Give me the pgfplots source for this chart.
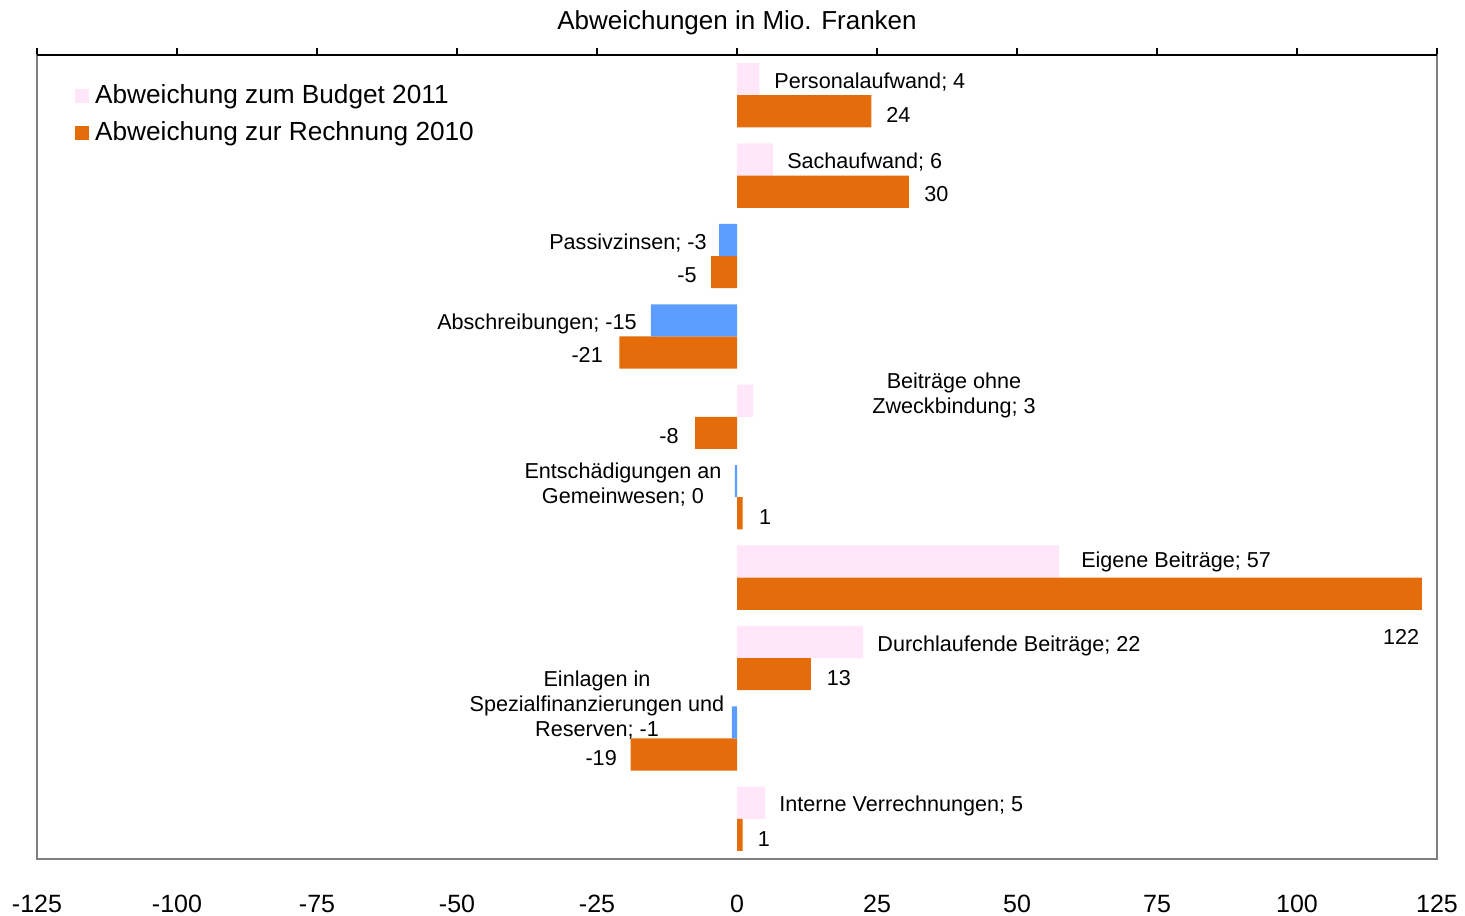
\documentclass[border=0pt]{standalone}
\usepackage{pgfplots}
\pgfplotsset{compat=1.18}
\usepackage{fontspec}
\setmainfont{Liberation Sans}
\definecolor{pinkb}{RGB}{255,230,248}
\definecolor{blueb}{RGB}{91,158,255}
\definecolor{orangeb}{RGB}{228,108,10}
\definecolor{frame}{RGB}{128,128,128}
\begin{document}
\begin{tikzpicture}
\begin{axis}[
  name=ax,
  scale only axis,
  width=700pt, height=402pt,
  xmin=-125, xmax=125, ymin=-0.5, ymax=9.5,
  y dir=reverse,
  xtick={-125,-100,-75,-50,-25,0,25,50,75,100,125},
  ytick=\empty,
  xtick pos=upper,
  xticklabel pos=lower,
  tick align=outside,
  major tick length=3.5pt,
  xtick style={black, line width=0.6pt},
  axis line style={frame, line width=0.8pt},
  /pgf/number format/assume math mode=true,
  xticklabel style={font=\fontsize{12.5}{15}\selectfont, yshift=-11pt},
  clip=false,
  xbar, bar width=0.4, bar shift=0pt,
  legend style={at={(axis description cs:0.027,0.967)}, anchor=north west, draw=none, fill=none,
    font=\fontsize{13.1}{15}\selectfont, row sep=4.5pt, inner sep=0pt,
    nodes={inner sep=1.5pt}},
  legend cell align=left,
]
\addplot[draw=none, fill=pinkb, legend image code/.code={\fill[pinkb] (0pt,-3.5pt) rectangle (7pt,3.5pt);}] coordinates {
 (4,-0.2) (6.4,0.8) (2.9,3.8) (57.5,5.8) (22.5,6.8) (5,8.8)};
\addlegendentry{\hspace{1.5pt}Abweichung zum\ Budget 2011}
\addplot[draw=none, fill=orangeb, legend image code/.code={\fill[orangeb] (0pt,-3.5pt) rectangle (7pt,3.5pt);}] coordinates {
 (24,0.2) (30.7,1.2) (-4.6,2.2) (-21,3.2) (-7.5,4.2) (1,5.2) (122.3,6.2) (13.2,7.2) (-19,8.2) (1,9.2)};
\addlegendentry{\hspace{1.5pt}Abweichung zur\ Rechnung 2010}
\addplot[draw=none, fill=blueb, forget plot] coordinates {
 (-3.2,1.8) (-15.4,2.8) (-0.4,4.8) (-0.9,7.8)};
\draw[black, line width=0.8pt] (rel axis cs:0,1) -- (rel axis cs:1,1);
\node[font=\fontsize{13}{15}\selectfont] at (axis cs:0,-0.5) [yshift=16pt] {Abweichungen in Mio. Franken};
\begin{scope}[every node/.style={font=\fontsize{10.8}{12.5}\selectfont, inner sep=0pt}]
\node[anchor=west] at (axis cs:6.6,-0.16) {Personalaufwand; 4};
\node[anchor=west] at (axis cs:26.6,0.24) {24};
\node[anchor=west] at (axis cs:8.9,0.835) {Sachaufwand; 6};
\node[anchor=west] at (axis cs:33.4,1.235) {30};
\node[anchor=east] at (axis cs:-5.36,1.845) {Passivzinsen; -3};
\node[anchor=east] at (axis cs:-7.14,2.24) {-5};
\node[anchor=east] at (axis cs:-17.86,2.84) {Abschreibungen; -15};
\node[anchor=east] at (axis cs:-23.9,3.235) {-21};
\node[align=center] at (axis cs:38.75,3.74) {Beiträge ohne\\Zweckbindung; 3};
\node[anchor=east] at (axis cs:-10.36,4.24) {-8};
\node[align=center] at (axis cs:-20.36,4.845) {Entschädigungen an\\Gemeinwesen; 0};
\node at (axis cs:5.0,5.25) {1};
\node[anchor=west] at (axis cs:61.4,5.8) {Eigene Beiträge; 57};
\node at (axis cs:118.6,6.74) {122};
\node[anchor=west] at (axis cs:25,6.845) {Durchlaufende Beiträge; 22};
\node at (axis cs:18.2,7.25) {13};
\node[align=center] at (axis cs:-25,7.59) {Einlagen in\\Spezialfinanzierungen und\\Reserven; -1};
\node[anchor=east] at (axis cs:-21.4,8.245) {-19};
\node[anchor=west] at (axis cs:7.5,8.845) {Interne Verrechnungen; 5};
\node at (axis cs:4.8,9.255) {1};
\end{scope}
\end{axis}
\pgfresetboundingbox
\path (-18.5pt,-28pt) rectangle (714pt,429.5pt);
\end{tikzpicture}
\end{document}
